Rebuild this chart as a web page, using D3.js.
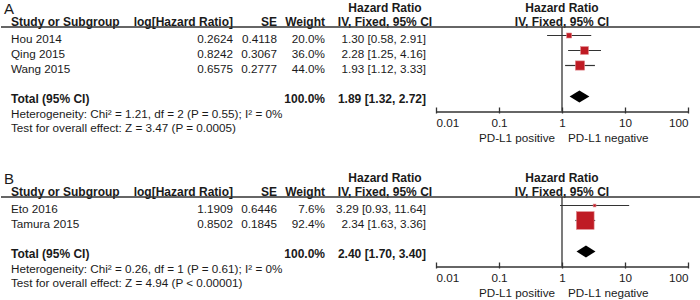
<!DOCTYPE html>
<html>
<head>
<meta charset="utf-8">
<script src="https://cdn.jsdelivr.net/npm/d3@7"></script>
<style>
  body { margin: 0; background: #fff; }
  text { font-family: "Liberation Sans", Arial, sans-serif; fill: #1a1a1a; }
</style>
</head>
<body>
<div id="chart"></div>
<script>
// panel A
const studiesA = ["Hou 2014", "Qing 2015", "Wang 2015"];
const logHrA = ["0.2624", "0.8242", "0.6575"];
const seA = ["0.4118", "0.3067", "0.2777"];
const weightA = [20.0, 36.0, 44.0];
const hrA = [1.30, 2.28, 1.93];
const loA = [0.58, 1.25, 1.12];
const hiA = [2.91, 4.16, 3.33];
const totalA = [1.89, 1.32, 2.72];
const hetA = "Heterogeneity: Chi² = 1.21, df = 2 (P = 0.55); I² = 0%";
const testA = "Test for overall effect: Z = 3.47 (P = 0.0005)";

// panel B
const studiesB = ["Eto 2016", "Tamura 2015"];
const logHrB = ["1.1909", "0.8502"];
const seB = ["0.6446", "0.1845"];
const weightB = [7.6, 92.4];
const hrB = [3.29, 2.34];
const loB = [0.93, 1.63];
const hiB = [11.64, 3.36];
const totalB = [2.40, 1.70, 3.40];
const hetB = "Heterogeneity: Chi² = 0.26, df = 1 (P = 0.61); I² = 0%";
const testB = "Test for overall effect: Z = 4.94 (P < 0.00001)";

const tickValues = [0.01, 0.1, 1, 10, 100];
const tickLabels = ["0.01", "0.1", "1", "10", "100"];

const width = 700, height = 300;
const svg = d3.select("#chart").append("svg")
    .attr("width", width)
    .attr("height", height);

const x = d3.scaleLog().domain([0.01, 100]).range([436, 688]);
const boxSize = d3.scaleLinear().domain([0, 100]).range([1.5, 19]);
const fmt = d => d.toFixed(2);
const fs = "11.7px";

function drawPanel(g, p) {
    const rowH = 15;
    const firstRow = 43;
    const rowY = i => firstRow + i * rowH;
    const totalY = rowY(p.studies.length + 1);
    const axisY = totalY + 8.5;

    g.append("text").attr("x", 4).attr("y", 14)
        .style("font-size", "15px").text(p.label);

    // header row 1
    g.append("text").attr("x", 385).attr("y", 12).attr("text-anchor", "middle")
        .style("font-size", "12px").style("font-weight", "bold").text("Hazard Ratio");
    g.append("text").attr("x", x(1)).attr("y", 12).attr("text-anchor", "middle")
        .style("font-size", "12px").style("font-weight", "bold").text("Hazard Ratio");

    // header row 2
    const headers = [
        {t: "Study or Subgroup", x: 11, a: "start"},
        {t: "log[Hazard Ratio]", x: 233, a: "end"},
        {t: "SE", x: 277, a: "end"},
        {t: "Weight", x: 325, a: "end"},
        {t: "IV, Fixed, 95% CI", x: 385, a: "middle"},
        {t: "IV, Fixed, 95% CI", x: x(1), a: "middle"}
    ];
    g.selectAll(".hdr").data(headers).enter().append("text")
        .attr("x", d => d.x).attr("y", 25.5)
        .attr("text-anchor", d => d.a)
        .style("font-size", "12px").style("font-weight", "bold")
        .text(d => d.t);

    g.append("line").attr("x1", 1).attr("x2", 700).attr("y1", 27).attr("y2", 27)
        .attr("stroke", "#333").attr("stroke-width", 1.3);

    // study rows
    p.studies.forEach((s, i) => {
        const y = rowY(i);
        const cells = [
            {t: s, x: 11, a: "start"},
            {t: p.logHr[i], x: 233, a: "end"},
            {t: p.se[i], x: 277, a: "end"},
            {t: p.weight[i].toFixed(1) + "%", x: 325, a: "end"},
            {t: `${fmt(p.hr[i])} [${fmt(p.lo[i])}, ${fmt(p.hi[i])}]`, x: 426, a: "end"}
        ];
        cells.forEach(c => g.append("text").attr("x", c.x).attr("y", y)
            .attr("text-anchor", c.a).style("font-size", fs).text(c.t));
    });

    // total row
    const tot = [
        {t: "Total (95% CI)", x: 11, a: "start"},
        {t: "100.0%", x: 325, a: "end"},
        {t: `${fmt(p.total[0])} [${fmt(p.total[1])}, ${fmt(p.total[2])}]`, x: 426, a: "end"}
    ];
    tot.forEach(c => g.append("text").attr("x", c.x).attr("y", totalY)
        .attr("text-anchor", c.a).style("font-size", "12px").style("font-weight", "bold").text(c.t));

    g.append("text").attr("x", 11).attr("y", totalY + 15).style("font-size", fs).text(p.het);
    g.append("text").attr("x", 11).attr("y", totalY + 29).style("font-size", fs).text(p.test);

    // null line
    g.append("line").attr("x1", x(1)).attr("x2", x(1)).attr("y1", 27).attr("y2", axisY)
        .attr("stroke", "#333").attr("stroke-width", 1.3);

    // CI lines
    g.selectAll(".ci").data(p.studies).enter().append("line")
        .attr("x1", (d, i) => x(p.lo[i]))
        .attr("x2", (d, i) => x(p.hi[i]))
        .attr("y1", (d, i) => rowY(i) - 7.5)
        .attr("y2", (d, i) => rowY(i) - 7.5)
        .attr("stroke", "#333").attr("stroke-width", 1.2);

    // boxes
    g.selectAll(".box").data(p.studies).enter().append("rect")
        .attr("x", (d, i) => x(p.hr[i]) - boxSize(p.weight[i]) / 2)
        .attr("y", (d, i) => rowY(i) - 7.5 - boxSize(p.weight[i]) / 2)
        .attr("width", (d, i) => boxSize(p.weight[i]))
        .attr("height", (d, i) => boxSize(p.weight[i]))
        .attr("fill", "#bf1b24")
        .attr("stroke", "#e0868a").attr("stroke-width", 0.6);

    // diamond
    const dy = totalY - 6.5;
    g.append("path")
        .attr("d", `M${x(p.total[1])},${dy} L${x(p.total[0])},${dy - 6} L${x(p.total[2])},${dy} L${x(p.total[0])},${dy + 6} Z`)
        .attr("fill", "#000");

    // axis
    const axis = g.append("g")
        .attr("transform", `translate(0,${axisY})`)
        .call(d3.axisBottom(x).tickValues(tickValues)
            .tickFormat((d, i) => tickLabels[i]).tickSizeOuter(0));
    axis.select(".domain").attr("stroke", "#333").attr("stroke-width", 1.3);
    axis.selectAll(".tick line").attr("y1", -4).attr("y2", 2)
        .attr("stroke", "#333").attr("stroke-width", 1.3);
    axis.selectAll(".tick text")
        .attr("y", 15.5).attr("dy", 0)
        .attr("text-anchor", (d, i) => i === 0 ? "start" : (i === tickValues.length - 1 ? "end" : "middle"))
        .style("font-size", fs)
        .style("font-family", "'Liberation Sans', Arial, sans-serif")
        .attr("fill", "#1a1a1a");

    g.append("text").attr("x", x(1) - 7).attr("y", axisY + 30.5).attr("text-anchor", "end")
        .style("font-size", fs).text("PD-L1 positive");
    g.append("text").attr("x", x(1) + 6).attr("y", axisY + 30.5).attr("text-anchor", "start")
        .style("font-size", fs).text("PD-L1 negative");
}

drawPanel(svg.append("g"), {
    label: "A", studies: studiesA, logHr: logHrA, se: seA, weight: weightA,
    hr: hrA, lo: loA, hi: hiA, total: totalA, het: hetA, test: testA
});
drawPanel(svg.append("g").attr("transform", "translate(0,170)"), {
    label: "B", studies: studiesB, logHr: logHrB, se: seB, weight: weightB,
    hr: hrB, lo: loB, hi: hiB, total: totalB, het: hetB, test: testB
});
</script>
</body>
</html>
